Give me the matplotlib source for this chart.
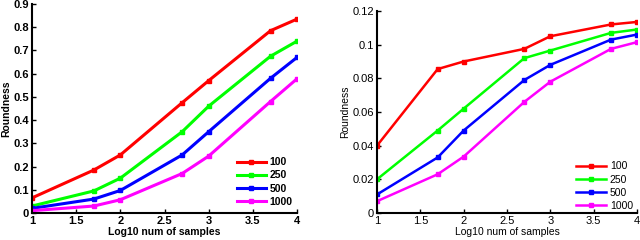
import matplotlib
matplotlib.use("Agg")
import matplotlib.pyplot as plt

x = [1, 1.7, 2, 2.7, 3, 3.7, 4]
labels = ["100", "250", "500", "1000"]
colors = ["#ff0000", "#00ff00", "#0000ff", "#ff00ff"]

left_vals = [
    [0.065, 0.185, 0.25, 0.475, 0.57, 0.785, 0.835],
    [0.030, 0.095, 0.15, 0.35, 0.46, 0.675, 0.74],
    [0.020, 0.060, 0.097, 0.25, 0.35, 0.58, 0.67],
    [0.010, 0.030, 0.057, 0.17, 0.245, 0.48, 0.578],
]
right_vals = [
    [0.040, 0.0855, 0.090, 0.0975, 0.105, 0.112, 0.1135],
    [0.020, 0.049, 0.062, 0.092, 0.0965, 0.107, 0.109],
    [0.011, 0.033, 0.049, 0.079, 0.088, 0.103, 0.106],
    [0.007, 0.023, 0.0335, 0.066, 0.078, 0.0975, 0.1015],
]

plt.rcParams['font.family'] = ['Liberation Sans', 'DejaVu Sans']

fig = plt.figure(figsize=(6.4, 2.4), dpi=100)
ax1 = fig.add_axes([32/640, 1-213/240, (297-32)/640, (213-4)/240])
ax2 = fig.add_axes([377/640, 1-213/240, (637-377)/640, (213-11)/240])

for ax, vals, bold, ymax, yticks, lw, bbox in [
    (ax1, left_vals, True, 0.9, [0, 0.1, 0.2, 0.3, 0.4, 0.5, 0.6, 0.7, 0.8, 0.9], 2.2, (1.0, 0.01)),
    (ax2, right_vals, False, 0.12, [0, 0.02, 0.04, 0.06, 0.08, 0.1, 0.12], 1.8, (1.0, -0.01)),
]:
    fw = 'bold' if bold else 'normal'
    for v, c, l in zip(vals, colors, labels):
        ax.plot(x, v, color=c, lw=lw, marker='s', ms=2.5, label=l)
    ax.set_xlim(1, 4)
    ax.set_ylim(0, ymax)
    ax.set_xticks([1, 1.5, 2, 2.5, 3, 3.5, 4])
    ax.set_xticklabels(['1', '1.5', '2', '2.5', '3', '3.5', '4'], fontweight=fw)
    ax.set_yticks(yticks)
    ax.set_yticklabels([('%g' % t) for t in yticks], fontweight=fw)
    ax.tick_params(direction='in', length=3, width=1, labelsize=8, pad=2)
    for s in ['top', 'right']:
        ax.spines[s].set_visible(False)
    for s in ['left', 'bottom']:
        ax.spines[s].set_linewidth(1.5)
    ax.set_xlabel('Log10 num of samples', fontsize=7.5, fontweight=fw, labelpad=1)
    ax.set_ylabel('Roundness', fontsize=7.5, fontweight=fw, labelpad=2)
    leg = ax.legend(loc='lower right', bbox_to_anchor=bbox, frameon=False, handlelength=2.8,
                    handletextpad=0.4, labelspacing=0.3, borderaxespad=0.0,
                    prop={'weight': fw, 'size': 7.5})

fig.savefig('out.png', dpi=100)
